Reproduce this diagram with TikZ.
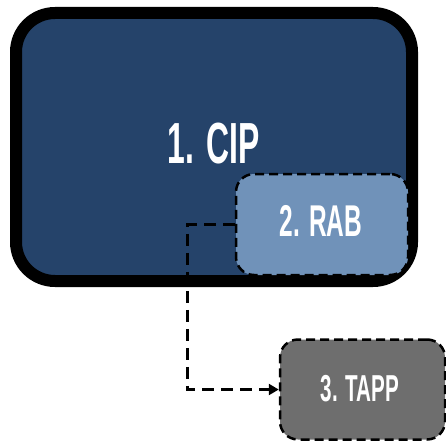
\documentclass[tikz,border=0pt]{standalone}
\usepackage{fontspec}
\setmainfont{Liberation Sans}[FakeStretch=0.55]
\usetikzlibrary{arrows.meta}

\definecolor{cipblue}{HTML}{25436A}
\definecolor{rabblue}{HTML}{7092B9}
\definecolor{tappgray}{HTML}{6E6E6E}

\tikzset{
    phase/.style={draw=black, text=white, inner sep=0pt, align=center},
    subphase/.style={phase, line width=2.5pt, dash pattern=on 9pt off 5pt, rounded corners=18pt},
    label/.style={text=white, inner sep=0pt, font=\bfseries},
    link/.style={line width=3pt, dash pattern=on 12pt off 7pt, -{Triangle[length=10pt,width=11pt]}}
}

\begin{document}
\begin{tikzpicture}[x=1pt,y=-1pt]

            \useasboundingbox (0,0) rectangle (446,441);

            % main phase
            \node[phase, fill=cipblue, line width=12pt, rounded corners=39pt,
                  minimum width=396pt, minimum height=268pt] (cip) at (214,147) {};
            \node[label] (ciplabel) at (213.5,144) {\fontsize{58}{60}\selectfont 1. CIP};

            % sub phases
            \node[subphase, fill=rabblue, minimum width=172pt, minimum height=101pt] (rab) at (322,224.5) {};
            \node[label] (rablabel) at (321,221) {\fontsize{44.5}{46}\selectfont 2. RAB};

            \node[subphase, fill=tappgray, minimum width=165pt, minimum height=100pt] (tapp) at (362.5,389.5) {};
            \node[label] (tapplabel) at (360,388.5) {\fontsize{37.5}{40}\selectfont 3. TAPP};

            % connector
            \coordinate (bend) at (187,224.5);
            \draw[link] (rab.west) -- (bend) |- (tapp.west);

\end{tikzpicture}
\end{document}
